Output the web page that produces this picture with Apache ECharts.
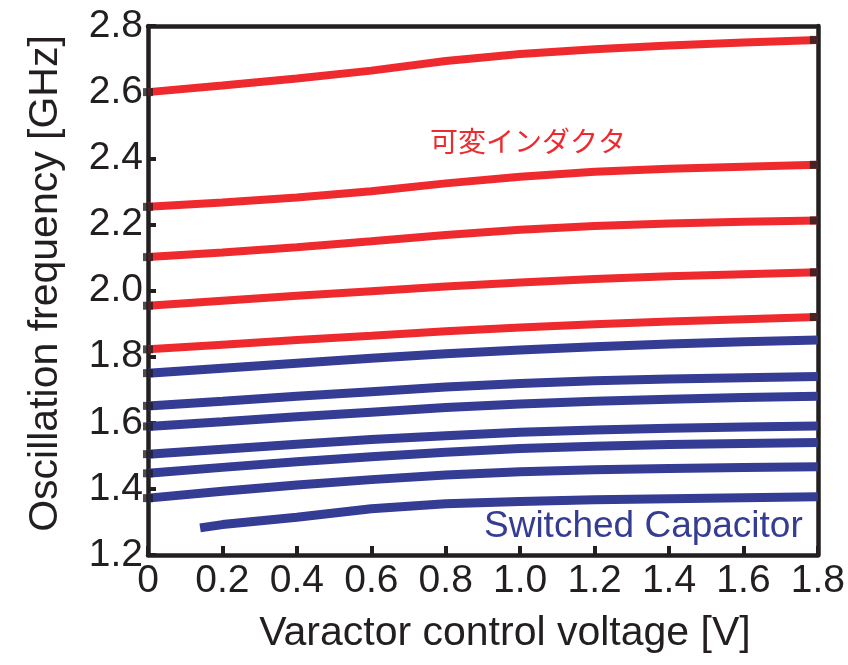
<!DOCTYPE html>
<html>
<head>
<meta charset="utf-8">
<script src="https://cdn.jsdelivr.net/npm/echarts@6/dist/echarts.min.js"></script>
<style>
html,body{margin:0;padding:0;background:#fff;}
#chart{width:848px;height:665px;}
</style>
</head>
<body>
<div id="chart"></div>
<script>
// ---- data ----
const xVoltage = [0, 0.2, 0.4, 0.6, 0.8, 1.0, 1.2, 1.4, 1.6, 1.8];
const xTickLabels = ['0','0.2','0.4','0.6','0.8','1.0','1.2','1.4','1.6','1.8'];
const yTickLabels = ['1.2','1.4','1.6','1.8','2.0','2.2','2.4','2.6','2.8'];

// variable inductor (red)
const ind1 = [2.600, 2.620, 2.641, 2.665, 2.694, 2.715, 2.730, 2.741, 2.750, 2.758];
const ind2 = [2.253, 2.266, 2.281, 2.300, 2.324, 2.344, 2.359, 2.368, 2.374, 2.380];
const ind3 = [2.101, 2.115, 2.131, 2.149, 2.168, 2.184, 2.195, 2.203, 2.208, 2.212];
const ind4 = [1.954, 1.969, 1.984, 1.998, 2.012, 2.024, 2.035, 2.043, 2.049, 2.055];
const ind5 = [1.822, 1.836, 1.850, 1.863, 1.877, 1.888, 1.898, 1.906, 1.913, 1.920];

// switched capacitor (blue)
const sw1 = [1.750, 1.765, 1.780, 1.795, 1.809, 1.820, 1.830, 1.838, 1.845, 1.850];
const sw2 = [1.651, 1.665, 1.680, 1.694, 1.708, 1.719, 1.727, 1.732, 1.736, 1.740];
const sw3 = [1.589, 1.603, 1.618, 1.632, 1.646, 1.657, 1.665, 1.671, 1.676, 1.680];
const sw4 = [1.505, 1.520, 1.535, 1.549, 1.561, 1.571, 1.578, 1.583, 1.587, 1.590];
const sw5 = [1.447, 1.465, 1.482, 1.497, 1.511, 1.522, 1.529, 1.534, 1.537, 1.540];
const sw6 = [1.372, 1.393, 1.412, 1.428, 1.442, 1.452, 1.458, 1.462, 1.465, 1.467];
const sw7X = [0.14, 0.2, 0.4, 0.6, 0.8, 1.0, 1.2, 1.4, 1.6, 1.8];
const sw7 = [1.282, 1.292, 1.314, 1.340, 1.355, 1.362, 1.367, 1.370, 1.373, 1.376];

const inductorLines = [ind1, ind2, ind3, ind4, ind5];
const switchedLines = [sw1, sw2, sw3, sw4, sw5, sw6];

// ---- chart ----
const RED = '#ee2a2e';
const BLUE = '#343c94';
const INK = '#231f20';
const FONT = '"Liberation Sans", Arial, sans-serif';

function pairs(xs, ys) { return xs.map((x, i) => [x, ys[i]]); }

const series = [];
inductorLines.forEach(ys => {
  series.push({
    type: 'line', data: pairs(xVoltage, ys), showSymbol: false, symbol: 'none',
    lineStyle: { color: RED, width: 8, cap: 'butt' }, z: 3, silent: true
  });
});
switchedLines.forEach(ys => {
  series.push({
    type: 'line', data: pairs(xVoltage, ys), showSymbol: false, symbol: 'none',
    lineStyle: { color: BLUE, width: 9, cap: 'butt' }, z: 3, silent: true
  });
});
series.push({
  type: 'line', data: pairs(sw7X, sw7), showSymbol: false, symbol: 'none',
  lineStyle: { color: BLUE, width: 9, cap: 'butt' }, z: 3, silent: true
});
// small black end marks at the line ends
const leftCaps = inductorLines.concat(switchedLines).map(ys => [xVoltage[0], ys[0]]);
const rightCaps = inductorLines.map(ys => [xVoltage[xVoltage.length - 1], ys[ys.length - 1]]);
series.push({
  type: 'scatter', data: leftCaps, symbol: 'rect', symbolSize: [10, 8],
  itemStyle: { color: INK }, z: 5, silent: true
});
series.push({
  type: 'scatter', data: rightCaps, symbol: 'rect', symbolSize: [8, 8], symbolOffset: [-4, 0],
  itemStyle: { color: INK }, z: 5, silent: true
});

const chart = echarts.init(document.getElementById('chart'), null, { renderer: 'canvas' });
chart.setOption({
  animation: false,
  backgroundColor: '#ffffff',
  grid: { left: 148, right: 28, top: 26, bottom: 110, containLabel: false },
  xAxis: [{
    type: 'value', min: 0, max: 1.8, interval: 0.2, position: 'bottom',
    axisLine: { show: true, onZero: false, lineStyle: { color: INK, width: 4.5 } },
    axisTick: { show: true, inside: true, length: 9, lineStyle: { color: INK, width: 4 } },
    splitLine: { show: false },
    axisLabel: {
      color: INK, fontSize: 39, fontFamily: FONT, margin: 7, showMaxLabel: true, showMinLabel: true,
      formatter: v => xTickLabels[Math.round(v / 0.2)]
    },
    name: 'Varactor control voltage [V]', nameLocation: 'middle', nameGap: 58,
    nameTextStyle: { color: INK, fontSize: 41, fontFamily: FONT, padding: [0, 0, 0, 44] }
  }, {
    type: 'value', min: 0, max: 1.8, position: 'top',
    axisLine: { show: true, onZero: false, lineStyle: { color: INK, width: 4.5 } },
    axisTick: { show: false }, axisLabel: { show: false }, splitLine: { show: false }
  }],
  yAxis: [{
    type: 'value', min: 1.2, max: 2.8, interval: 0.2, position: 'left',
    axisLine: { show: true, onZero: false, lineStyle: { color: INK, width: 4.5 } },
    axisTick: { show: true, inside: true, length: 8, lineStyle: { color: INK, width: 4 } },
    splitLine: { show: false },
    axisLabel: {
      color: INK, fontSize: 39, fontFamily: FONT, margin: 5,
      formatter: v => yTickLabels[Math.round((v - 1.2) / 0.2)]
    },
    name: 'Oscillation frequency [GHz]', nameLocation: 'middle', nameGap: 82, nameRotate: 90,
    nameTextStyle: { color: INK, fontSize: 41, fontFamily: FONT, padding: [0, 0, 0, 14] }
  }, {
    type: 'value', min: 1.2, max: 2.8, position: 'right',
    axisLine: { show: true, onZero: false, lineStyle: { color: INK, width: 4.5 } },
    axisTick: { show: false }, axisLabel: { show: false }, splitLine: { show: false }
  }],
  graphic: [{
    type: 'text', left: 430, top: 127,
    style: { text: '可変インダクタ', fill: RED, fontSize: 28, fontFamily: '"Noto Sans CJK JP", sans-serif' }
  }, {
    type: 'text', left: 484, top: 508,
    style: { text: 'Switched Capacitor', fill: BLUE, fontSize: 37, fontFamily: FONT }
  }],
  series: series
});
</script>
</body>
</html>
